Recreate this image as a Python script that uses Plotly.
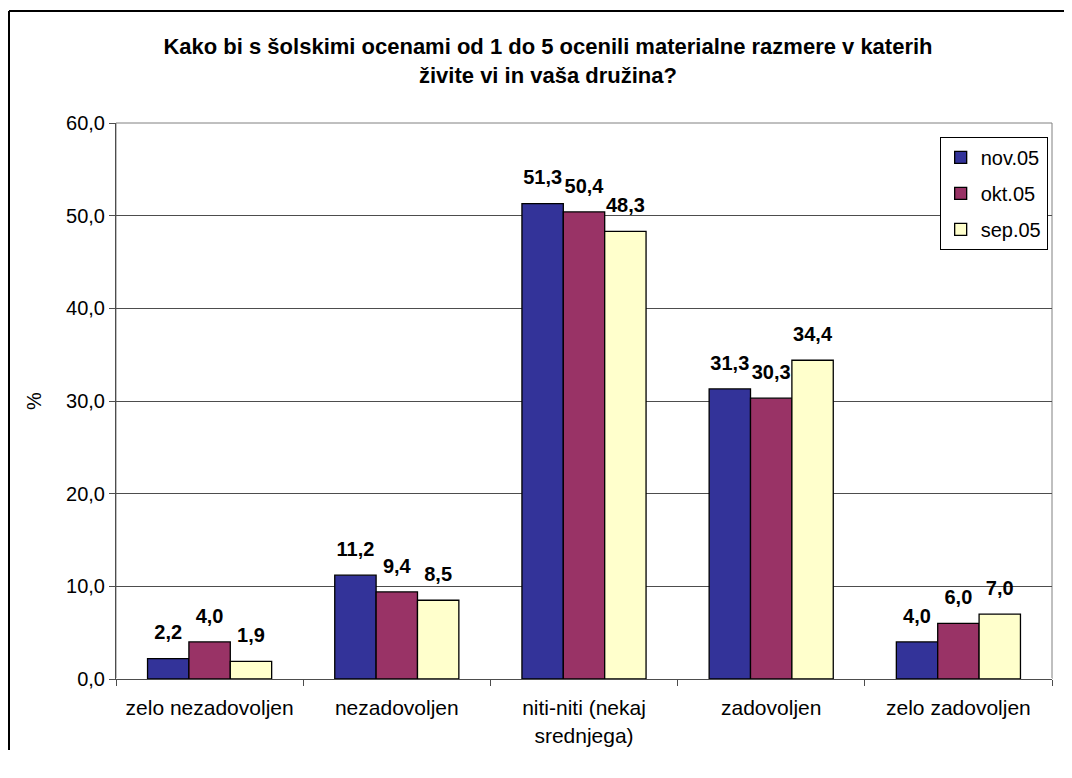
import plotly.graph_objects as go

categories = ["zelo nezadovoljen", "nezadovoljen", "niti-niti (nekaj<br>srednjega)",
              "zadovoljen", "zelo zadovoljen"]
series_names = ["nov.05", "okt.05", "sep.05"]
nov05 = [2.2, 11.2, 51.3, 31.3, 4.0]
okt05 = [4.0, 9.4, 50.4, 30.3, 6.0]
sep05 = [1.9, 8.5, 48.3, 34.4, 7.0]
y_ticks = [0, 10, 20, 30, 40, 50, 60]

colors = ["#333399", "#993366", "#FFFFCC"]
font = "Liberation Sans, Arial, sans-serif"
GAP = 0.337

fig = go.Figure()
for i, (name, vals) in enumerate(zip(series_names, [nov05, okt05, sep05])):
    fig.add_trace(go.Bar(
        x=categories,
        y=vals,
        name=name,
        legendgroup=name,
        offsetgroup=name,
        marker={'color': colors[i], 'line': {'color': 'black', 'width': 1.3}},
    ))
# value labels: invisible markers push the text up above the bars
for i, (name, vals) in enumerate(zip(series_names, [nov05, okt05, sep05])):
    fig.add_trace(go.Scatter(
        x=categories,
        y=vals,
        mode='markers+text',
        offsetgroup=name,
        marker={'size': 21, 'opacity': 0},
        text=[f"{v:.1f}".replace('.', ',') for v in vals],
        textposition='top center',
        textfont={'family': font, 'size': 20, 'color': 'black', 'weight': 'bold'},
        showlegend=False,
        hoverinfo='skip',
        cliponaxis=False,
    ))

# page has an 8px body margin; keep the figure small enough for no scrollbars
fig.update_layout(
    width=1056,
    height=742,
    separators=',.',
    barmode='group',
    bargap=GAP,
    bargroupgap=0,
    scattermode='group',
    scattergap=GAP,
    plot_bgcolor='white',
    paper_bgcolor='white',
    font={'family': font, 'size': 20, 'color': 'black'},
    margin={'l': 108, 'r': 12, 't': 115, 'b': 71},
    title={
        'text': '<b>Kako bi s šolskimi ocenami od 1 do 5 ocenili materialne razmere v katerih<br>živite vi in vaša družina?</b>',
        'x': 540 / 1056, 'xanchor': 'center',
        'y': 1 - 46 / 742, 'yanchor': 'top',
        'font': {'family': font, 'size': 22, 'color': 'black'},
    },
    legend={
        'x': 0.880, 'xanchor': 'left', 'y': 0.975, 'yanchor': 'top',
        'bordercolor': 'black', 'borderwidth': 1, 'bgcolor': 'white',
        'font': {'size': 20}, 'tracegroupgap': 7,
        'itemwidth': 30,
    },
    showlegend=True,
)

# outer chart border: only the left and top edges fall inside the picture
left_edge = -107 / 936
top_edge = 1 + 112 / 556
fig.add_shape(type='line', xref='paper', yref='paper',
              x0=left_edge, x1=left_edge, y0=-0.2, y1=top_edge,
              line={'color': 'black', 'width': 2})
fig.add_shape(type='line', xref='paper', yref='paper',
              x0=left_edge, x1=1.1, y0=top_edge, y1=top_edge,
              line={'color': 'black', 'width': 2})

fig.update_xaxes(
    showline=True, linecolor='#4d4d4d', linewidth=1, mirror=False,
    ticks='outside', tickson='boundaries', ticklen=6, tickcolor='#4d4d4d',
    tickfont={'size': 21}, ticklabelstandoff=10, automargin=False,
)
fig.update_yaxes(
    range=[0, 60], tickvals=y_ticks, tickformat='.1f',
    showgrid=True, gridcolor='#4d4d4d', gridwidth=1,
    showline=True, linecolor='#4d4d4d', linewidth=1,
    ticks='outside', ticklen=6, tickcolor='#4d4d4d',
    tickfont={'size': 20}, automargin=False,
    title={'text': '%', 'font': {'size': 20}, 'standoff': 19},
)
# gray frame on the top/right of the plot area
fig.add_shape(type='rect', xref='paper', yref='paper', x0=0, x1=1, y0=0, y1=1,
              line={'color': '#808080', 'width': 1}, layer='below')

fig.write_html("out.html")
